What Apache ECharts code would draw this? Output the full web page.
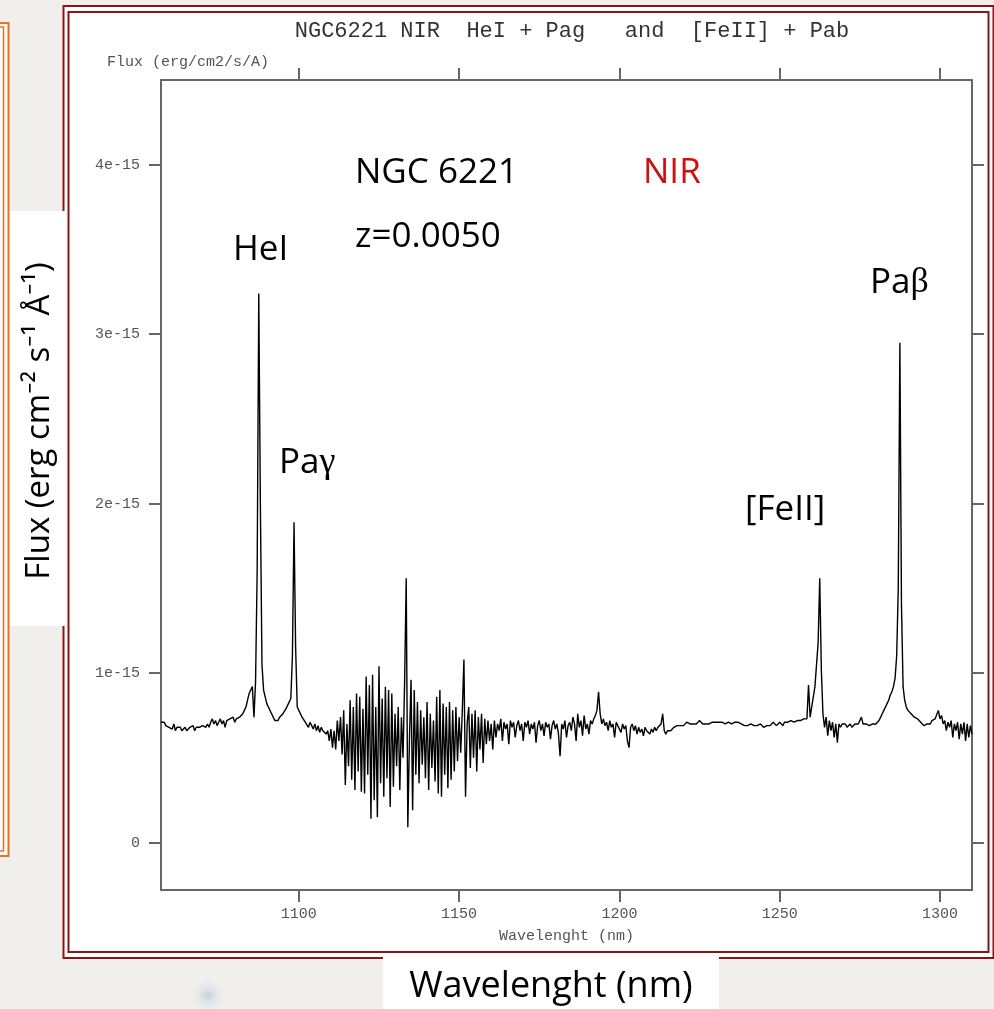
<!DOCTYPE html>
<html>
<head>
<meta charset="utf-8">
<script src="https://cdn.jsdelivr.net/npm/echarts@6/dist/echarts.min.js"></script>
<style>
  html, body { margin: 0; padding: 0; background: #f0efeb; }
  #chart { width: 994px; height: 1009px; }
</style>
</head>
<body>
<div id="chart"></div>
<script>
// ---- DATA (flux in units of 1e-15 erg/cm2/s/A, sampled every 0.5 nm) ----
const lambdaStep = 0.5;

const blueStart = 1057;   // continuum blueward of HeI
const fluxBlue = [
  0.71,0.70,0.71,0.69,0.70,0.68,0.69,0.67,0.70,0.66,
  0.68,0.67,0.68,0.66,0.67,0.68,0.66,0.67,0.68,0.67,
  0.69,0.66,0.68,0.67,0.68,0.67,0.69,0.68,0.68,0.70,
  0.68,0.71,0.73,0.70,0.72,0.69,0.71,0.73,0.70,0.72,
  0.68,0.72,0.71,0.73,0.72,0.74,0.71,0.73,0.72,0.74,
  0.73,0.76,0.78,0.80
];

const heiStart = 1084;    // HeI line
const fluxHeI = [0.84,0.88,0.90,0.92,0.74,0.95,1.60,3.24,2.00,1.05,0.90,0.86,0.82];

const pagStart = 1090.5;  // Pa gamma line and surroundings
const fluxPag = [
  0.80,0.78,0.76,0.74,0.72,0.73,0.72,0.74,0.75,0.76,
  0.77,0.79,0.80,0.83,0.85,1.10,1.89,1.15,0.80,0.78,
  0.76,0.74,0.75,0.71,0.72,0.68,0.71,0.69,0.67,0.70,
  0.66,0.69,0.65,0.68,0.66,0.67,0.64,0.66,0.60,0.67,
  0.56
];

const noisyStart = 1111;  // telluric noisy band
const fluxNoisy = [
  0.66,0.55,0.72,0.60,0.74,0.52,0.78,0.34,0.70,0.45,
  0.84,0.37,0.80,0.31,0.88,0.42,0.86,0.30,0.79,0.29,
  0.98,0.40,0.93,0.14,0.99,0.25,0.80,0.15,1.04,0.35,
  0.85,0.27,0.92,0.38,0.90,0.21,0.88,0.33,0.76,0.45,
  0.80,0.31,0.74,0.50,0.95,1.56,0.09,0.60,0.96,0.19,
  0.90,0.40,0.83,0.35,0.78,0.46,0.74,0.38,0.83,0.31,
  0.76,0.44,0.72,0.36,0.86,0.29,0.90,0.27,0.82,0.40,
  0.80,0.32,0.83,0.37,0.78,0.42,0.80,0.48,0.74,0.53,
  0.78,1.08,0.27,0.70,0.80,0.44,0.76,0.50,0.78,0.42,
  0.74,0.55,0.76,0.47,0.73,0.58,0.72,0.60,0.70
];

const redStart = 1160.5;  // [FeII] and Pa beta region
const fluxRed = [
  0.55,0.72,0.62,0.70,0.66,0.73,0.60,0.71,0.67,0.70,
  0.58,0.72,0.68,0.71,0.62,0.69,0.72,0.66,0.70,0.60,
  0.71,0.68,0.72,0.64,0.70,0.67,0.71,0.59,0.69,0.72,
  0.66,0.70,0.63,0.71,0.68,0.70,0.61,0.69,0.72,0.67,
  0.70,0.64,0.51,0.70,0.67,0.72,0.62,0.69,0.71,0.66,
  0.74,0.70,0.60,0.76,0.68,0.72,0.63,0.75,0.67,0.70,
  0.64,0.72,0.70,0.73,0.75,0.78,0.89,0.76,0.70,0.73,
  0.69,0.71,0.66,0.72,0.68,0.70,0.62,0.71,0.69,0.70,
  0.65,0.70,0.67,0.69,0.60,0.56,0.68,0.70,0.66,0.69,
  0.64,0.68,0.65,0.67,0.63,0.68,0.66,0.67,0.64,0.67,
  0.65,0.68,0.66,0.68,0.67,0.70,0.76,0.66,0.64,0.66,
  0.65,0.66,0.67,0.68,0.68,0.69,0.68,0.69,0.70,0.69,
  0.70,0.71,0.70,0.70,0.71,0.70,0.71,0.70,0.71,0.72,
  0.71,0.70,0.71,0.70,0.69,0.70,0.71,0.71,0.72,0.71,
  0.70,0.71,0.72,0.71,0.70,0.70,0.71,0.71,0.70,0.70,
  0.71,0.71,0.72,0.71,0.70,0.70,0.71,0.69,0.70,0.69,
  0.70,0.70,0.71,0.69,0.68,0.69,0.70,0.70,0.69,0.68,
  0.68,0.69,0.70,0.69,0.70,0.71,0.70,0.69,0.70,0.71,
  0.70,0.69,0.71,0.70,0.71,0.70,0.72,0.71,0.71,0.70,
  0.72,0.71,0.72,0.72,0.73,0.74,0.73,0.93,0.74,0.80,
  0.86,0.92,1.05,1.18,1.56,1.02,0.76,0.68,0.74,0.63,
  0.72,0.66,0.71,0.62,0.70,0.59,0.70,0.68,0.70,0.69,
  0.70,0.68,0.69,0.70,0.68,0.69,0.70,0.69,0.70,0.71,
  0.74,0.70,0.69,0.70,0.70,0.69,0.70,0.70,0.70,0.70,
  0.71,0.72,0.74,0.76,0.78,0.80,0.82,0.84,0.87,0.89,
  0.92,0.97,1.10,1.50,2.95,1.40,0.92,0.84,0.80,0.78,
  0.77,0.76,0.75,0.74,0.74,0.73,0.72,0.71,0.70,0.69,
  0.68,0.70,0.69,0.70,0.72,0.71,0.73,0.74,0.78,0.73,
  0.75,0.70,0.72,0.66,0.71,0.68,0.72,0.62,0.70,0.66,
  0.71,0.61,0.70,0.64,0.71,0.60,0.70,0.62,0.69,0.64
];

const xMin = 1057, xMax = 1310;
const yMin = -0.28, yMax = 4.5;
const xTicks = [1100, 1150, 1200, 1250, 1300];
const yTicks = [0, 1, 2, 3, 4];

const titleText = 'NGC6221 NIR  HeI + Pag   and  [FeII] + Pab';
const yUnitText = 'Flux (erg/cm2/s/A)';
const xNameText = 'Wavelenght (nm)';

// ---- build series points ----
function toPoints(start, arr) {
  return arr.map((f, i) => [start + i * lambdaStep, f]);
}
const spectrum = [].concat(
  toPoints(blueStart, fluxBlue),
  toPoints(heiStart, fluxHeI),
  toPoints(pagStart, fluxPag),
  toPoints(noisyStart, fluxNoisy),
  toPoints(redStart, fluxRed)
);

const chart = echarts.init(document.getElementById('chart'), null, { renderer: 'canvas' });

const mono = "'Liberation Mono', 'DejaVu Sans Mono', monospace";
const hand = "'Open Sans', 'Noto Sans', sans-serif";
const greek = "'Liberation Serif', 'DejaVu Serif', serif";
const frameColor = '#666';
const axisCommon = {
  type: 'value', min: xMin, max: xMax,
  splitLine: { show: false },
  axisLine: { show: true, onZero: false, lineStyle: { color: frameColor, width: 2 } },
  axisTick: { show: true, inside: false, length: 12, customValues: xTicks, lineStyle: { color: frameColor, width: 2 } }
};

function lineLabel(x, y, text, color) {
  return { type: 'text', x: x, y: y, z: 50,
    style: { text: text, font: "35px " + hand, fill: color || '#000', textAlign: 'left', textVerticalAlign: 'middle' } };
}
function greekLabel(x, y, letter) {
  return { type: 'text', x: x, y: y, z: 50,
    style: {
      text: '{a|Pa}{g|' + letter + '}', textAlign: 'left', textVerticalAlign: 'middle',
      rich: {
        a: { fontFamily: hand, fontSize: 35, fill: '#000', color: '#000' },
        g: { fontFamily: greek, fontSize: 36, fill: '#000', color: '#000' }
      }
    } };
}

const option = {
  backgroundColor: '#f0efeb',
  animation: false,
  title: {
    text: titleText,
    left: 567, top: 15, textAlign: 'center',
    textStyle: { fontFamily: mono, fontSize: 22, fontWeight: 'normal', color: '#333' }
  },
  grid: { left: 161, top: 80, width: 811, height: 810, show: false },
  xAxis: [
    Object.assign({}, axisCommon, {
      position: 'bottom',
      axisLabel: { show: true, customValues: xTicks, margin: 17, fontFamily: mono, fontSize: 15, color: '#555', formatter: v => String(v) },
      name: xNameText, nameLocation: 'middle', nameGap: 39,
      nameTextStyle: { fontFamily: mono, fontSize: 15, color: '#555' }
    }),
    Object.assign({}, axisCommon, {
      position: 'top',
      axisLabel: { show: false }
    })
  ],
  yAxis: [
    {
      type: 'value', min: yMin, max: yMax, position: 'left',
      splitLine: { show: false },
      axisLine: { show: true, onZero: false, lineStyle: { color: frameColor, width: 2 } },
      axisTick: { show: true, length: 12, customValues: yTicks, lineStyle: { color: frameColor, width: 2 } },
      axisLabel: {
        show: true, customValues: yTicks, margin: 21, fontFamily: mono, fontSize: 15, color: '#555',
        formatter: v => (v === 0 ? '0' : v + 'e-15')
      }
    },
    {
      type: 'value', min: yMin, max: yMax, position: 'right',
      splitLine: { show: false },
      axisLine: { show: true, onZero: false, lineStyle: { color: frameColor, width: 2 } },
      axisTick: { show: true, length: 12, customValues: yTicks, lineStyle: { color: frameColor, width: 2 } },
      axisLabel: { show: false }
    }
  ],
  series: [{
    type: 'line',
    data: spectrum,
    xAxisIndex: 0, yAxisIndex: 0,
    showSymbol: false, symbol: 'none',
    lineStyle: { color: '#000', width: 1.4 },
    z: 5
  }],
  graphic: [
    // faint blue smudge (background picture)
    { type: 'ellipse', shape: { cx: 208, cy: 995, rx: 22, ry: 16 },
      style: { fill: { type: 'radial', x: 0.5, y: 0.5, r: 0.5, colorStops: [
        { offset: 0, color: 'rgba(140,175,210,0.45)' }, { offset: 1, color: 'rgba(200,215,230,0)' } ] } },
      z: -20, silent: true },
    // orange frame (left)
    { type: 'rect', shape: { x: -2, y: 23, width: 10.5, height: 833 }, style: { fill: '#ffffff', stroke: '#f07020', lineWidth: 2 }, z: -15, silent: true },
    { type: 'rect', shape: { x: -2, y: 27, width: 5.5, height: 824 }, style: { fill: null, stroke: '#f07020', lineWidth: 1.5 }, z: -14, silent: true },
    // dark red double frame
    { type: 'rect', shape: { x: 63.5, y: 6, width: 930, height: 952 }, style: { fill: '#ffffff', stroke: '#8e1414', lineWidth: 2 }, z: -12, silent: true },
    { type: 'rect', shape: { x: 68.5, y: 12, width: 920, height: 940 }, style: { fill: '#ffffff', stroke: '#8e1414', lineWidth: 2 }, z: -11, silent: true },
    // white label boxes
    { type: 'rect', shape: { x: 10, y: 211, width: 57, height: 415 }, style: { fill: '#ffffff' }, z: -10, silent: true },
    { type: 'rect', shape: { x: 383, y: 956, width: 336, height: 60 }, style: { fill: '#ffffff' }, z: -10, silent: true },
    // unit label above y axis
    { type: 'text', x: 107, y: 62, style: { text: yUnitText, font: "15px " + mono, fill: '#555', textAlign: 'left', textVerticalAlign: 'middle' }, z: 50 },
    // big axis labels
    { type: 'text', x: 40, y: 421, rotation: Math.PI / 2, style: { text: 'Flux (erg cm\u207B\u00B2 s\u207B\u00B9 \u00C5\u207B\u00B9)', font: "33px " + hand, fill: '#000', textAlign: 'center', textVerticalAlign: 'middle' }, z: 50 },
    { type: 'text', x: 551, y: 987, style: { text: 'Wavelenght (nm)', font: "36px " + hand, fill: '#000', textAlign: 'center', textVerticalAlign: 'middle' }, z: 50 },
    // annotations
    lineLabel(355, 173, 'NGC 6221'),
    lineLabel(643, 173, 'NIR', '#cc1111'),
    lineLabel(355, 237, 'z=0.0050'),
    lineLabel(233, 250, 'HeI'),
    greekLabel(279, 463, '\u03B3'),
    lineLabel(745, 510, '[FeII]'),
    greekLabel(870, 283, '\u03B2')
  ]
};
chart.setOption(option);
</script>
</body>
</html>
